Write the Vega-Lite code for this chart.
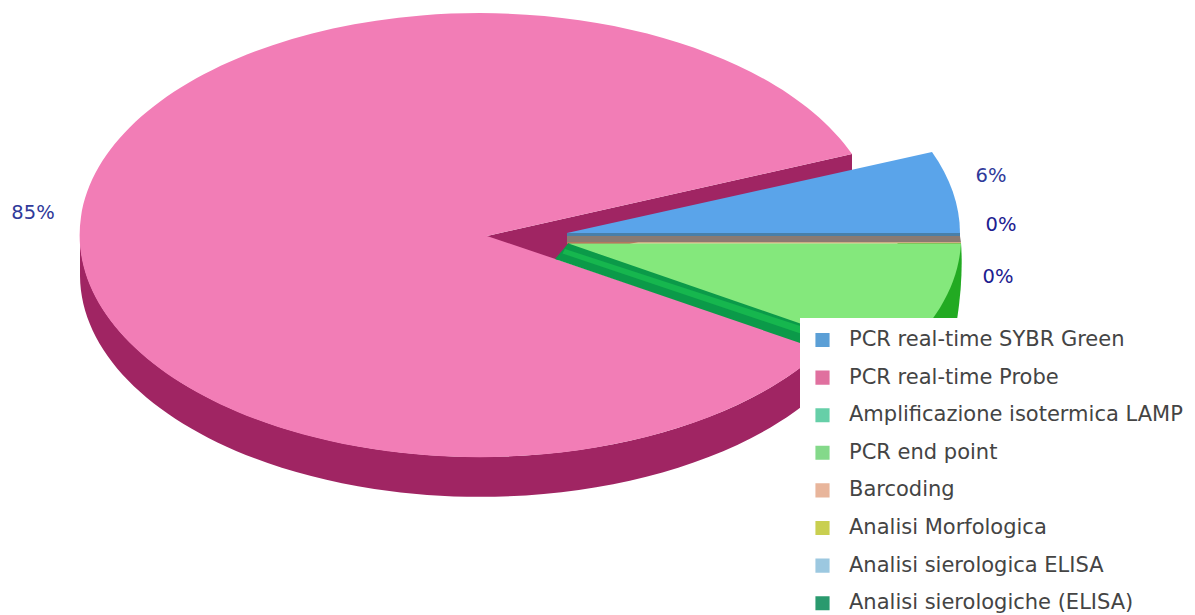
{
"$schema":"https://vega.github.io/schema/vega-lite/v6.json",
"width":1195,"height":615,
"autosize":{"type":"fit","contains":"padding"},
"padding":0,
"background":"white",
"config":{"view":{"stroke":null},"font":"DejaVu Sans"},
"data":{"values":[
{"method":"PCR real-time SYBR Green","share":0.06},
{"method":"PCR real-time Probe","share":0.85},
{"method":"Amplificazione isotermica LAMP","share":0.002},
{"method":"PCR end point","share":0.08},
{"method":"Barcoding","share":0.002},
{"method":"Analisi Morfologica","share":0.001},
{"method":"Analisi sierologiche (ELISA)","share":0.003},
{"method":"Analisi sierologica ELISA","share":0.002}
]},
"resolve":{"scale":{"color":"independent","shape":"independent"}},
"layer":[
{"transform":[{"filter":"datum.method=='PCR real-time Probe' || datum.method=='PCR end point'"}],
 "mark":{"type":"point","filled":true,"opacity":1,"size":4},
 "encoding":{
  "color":{"field":"method","type":"nominal","legend":null,"scale":{"domain":["PCR real-time Probe","PCR end point"],"range":["#a02563","#22aa22"]}},
  "shape":{"field":"method","type":"nominal","legend":null,"scale":{"domain":["PCR real-time Probe","PCR end point"],"range":["M-517.5,-71.5 A400,222 0 0 0 225.5,41.5 L225.5,81.5 A400,222 0 0 1 -517.5,-31.5 Z M-110.5,-71.5 L254.5,-153.5 L254.5,-113.5 L-110.5,-31.5 Z","M363.5,-64.5 Q366,-30 359.5,12.5 L300,12.5 L300,-64.5 Z"]}}
 }},
{"transform":[{"filter":"datum.method=='PCR real-time Probe' || datum.method=='PCR real-time SYBR Green'"}],
 "mark":{"type":"point","filled":true,"opacity":1,"size":4},
 "encoding":{
  "color":{"field":"method","type":"nominal","legend":null,
   "scale":{"domain":["PCR real-time SYBR Green","PCR real-time Probe"],"range":["#5aa4ea","#f27db6"]}},
  "shape":{"field":"method","type":"nominal","legend":null,
   "scale":{"domain":["PCR real-time SYBR Green","PCR real-time Probe"],
    "range":["M-30.5,-74.5 L334.5,-155.5 A400,222 0 0 1 362.5,-74.5 Z","M-110.5,-71.5 L254.5,-153.5 A400,222 0 1 0 225.5,41.5 Z"]}}
 }},
{"transform":[{"filter":"datum.method!='PCR real-time Probe' && datum.method!='PCR real-time SYBR Green' && datum.method!='PCR end point'"}],
 "mark":{"type":"point","filled":true,"opacity":1,"size":4},
 "encoding":{
  "color":{"field":"method","type":"nominal","legend":null,
   "scale":{"domain":["Amplificazione isotermica LAMP","Barcoding","Analisi Morfologica","Analisi sierologica ELISA","Analisi sierologiche (ELISA)"],
    "range":["#4a7fa8","#8a7a72","#d8a050","#16b64e","#0b9a49"]}},
  "shape":{"field":"method","type":"nominal","legend":null,
   "scale":{"domain":["Amplificazione isotermica LAMP","Barcoding","Analisi Morfologica","Analisi sierologica ELISA","Analisi sierologiche (ELISA)"],
    "range":["M-30.5,-74.5 L362.5,-74.5 L362.5,-71.5 L-30.5,-71.5 Z","M-30.5,-71.5 L362.5,-71.5 L363.5,-65 L-30.5,-65 Z","M-30.5,-65 L363.5,-65 L363.5,-64 L-30.5,-64 Z","M-32.5,-58.5 L262.5,38 L262.5,46 L-35,-54 Z","M-29,-64.5 L262.5,34 L262.5,56 L-42.5,-48.5 Z"]}}
 }},
{"transform":[{"filter":"datum.method=='PCR end point'"}],
 "mark":{"type":"point","filled":true,"opacity":1,"size":4},
 "encoding":{
  "color":{"field":"method","type":"nominal","legend":null,"scale":{"domain":["PCR end point"],"range":["#84e87c"]}},
  "shape":{"field":"method","type":"nominal","legend":null,"scale":{"domain":["PCR end point"],"range":["M-29,-64 L363.5,-64 A400,222 0 0 1 299.5,49.5 Z"]}}
 }},
{"mark":{"type":"point","filled":true,"opacity":0,"size":0},
 "encoding":{
  "color":{"field":"method","type":"nominal","sort":null,
   "scale":{"domain":["PCR real-time SYBR Green","PCR real-time Probe","Amplificazione isotermica LAMP","PCR end point","Barcoding","Analisi Morfologica","Analisi sierologica ELISA","Analisi sierologiche (ELISA)"],
    "range":["#5b9fd6","#e0709f","#66cfa8","#84d98a","#e8b59b","#c9cf50","#9cc8e0","#2a9a6e"]},
   "legend":{"title":null,"orient":"none","legendX":800,"legendY":318,"fillColor":"white","padding":12,"symbolType":"square","symbolSize":200,"symbolStrokeWidth":0,"symbolOpacity":1,"labelFont":"DejaVu Sans","labelFontSize":21,"labelColor":"#444444","labelLimit":400,"labelOffset":16,"rowPadding":16.6,"clipHeight":20}}
 }},
{"transform":[{"filter":"datum.method=='PCR real-time Probe'"}],
 "mark":{"type":"text","font":"DejaVu Sans","fontSize":19.5,"color":"#2f3a9a","dx":-564.5,"dy":-94.5},
 "encoding":{"text":{"field":"share","type":"quantitative","format":".0%"}}},
{"transform":[{"filter":"datum.method=='PCR real-time SYBR Green'"}],
 "mark":{"type":"text","font":"DejaVu Sans","fontSize":19.5,"color":"#2f3a9a","dx":393.5,"dy":-131.5},
 "encoding":{"text":{"field":"share","type":"quantitative","format":".0%"}}},
{"transform":[{"filter":"datum.method=='Amplificazione isotermica LAMP'"}],
 "mark":{"type":"text","font":"DejaVu Sans","fontSize":19.5,"color":"#1c2090","dx":403.5,"dy":-82.5},
 "encoding":{"text":{"field":"share","type":"quantitative","format":".0%"}}},
{"transform":[{"filter":"datum.method=='Barcoding'"}],
 "mark":{"type":"text","font":"DejaVu Sans","fontSize":19.5,"color":"#1c2090","dx":400.5,"dy":-30.5},
 "encoding":{"text":{"field":"share","type":"quantitative","format":".0%"}}}
]
}
